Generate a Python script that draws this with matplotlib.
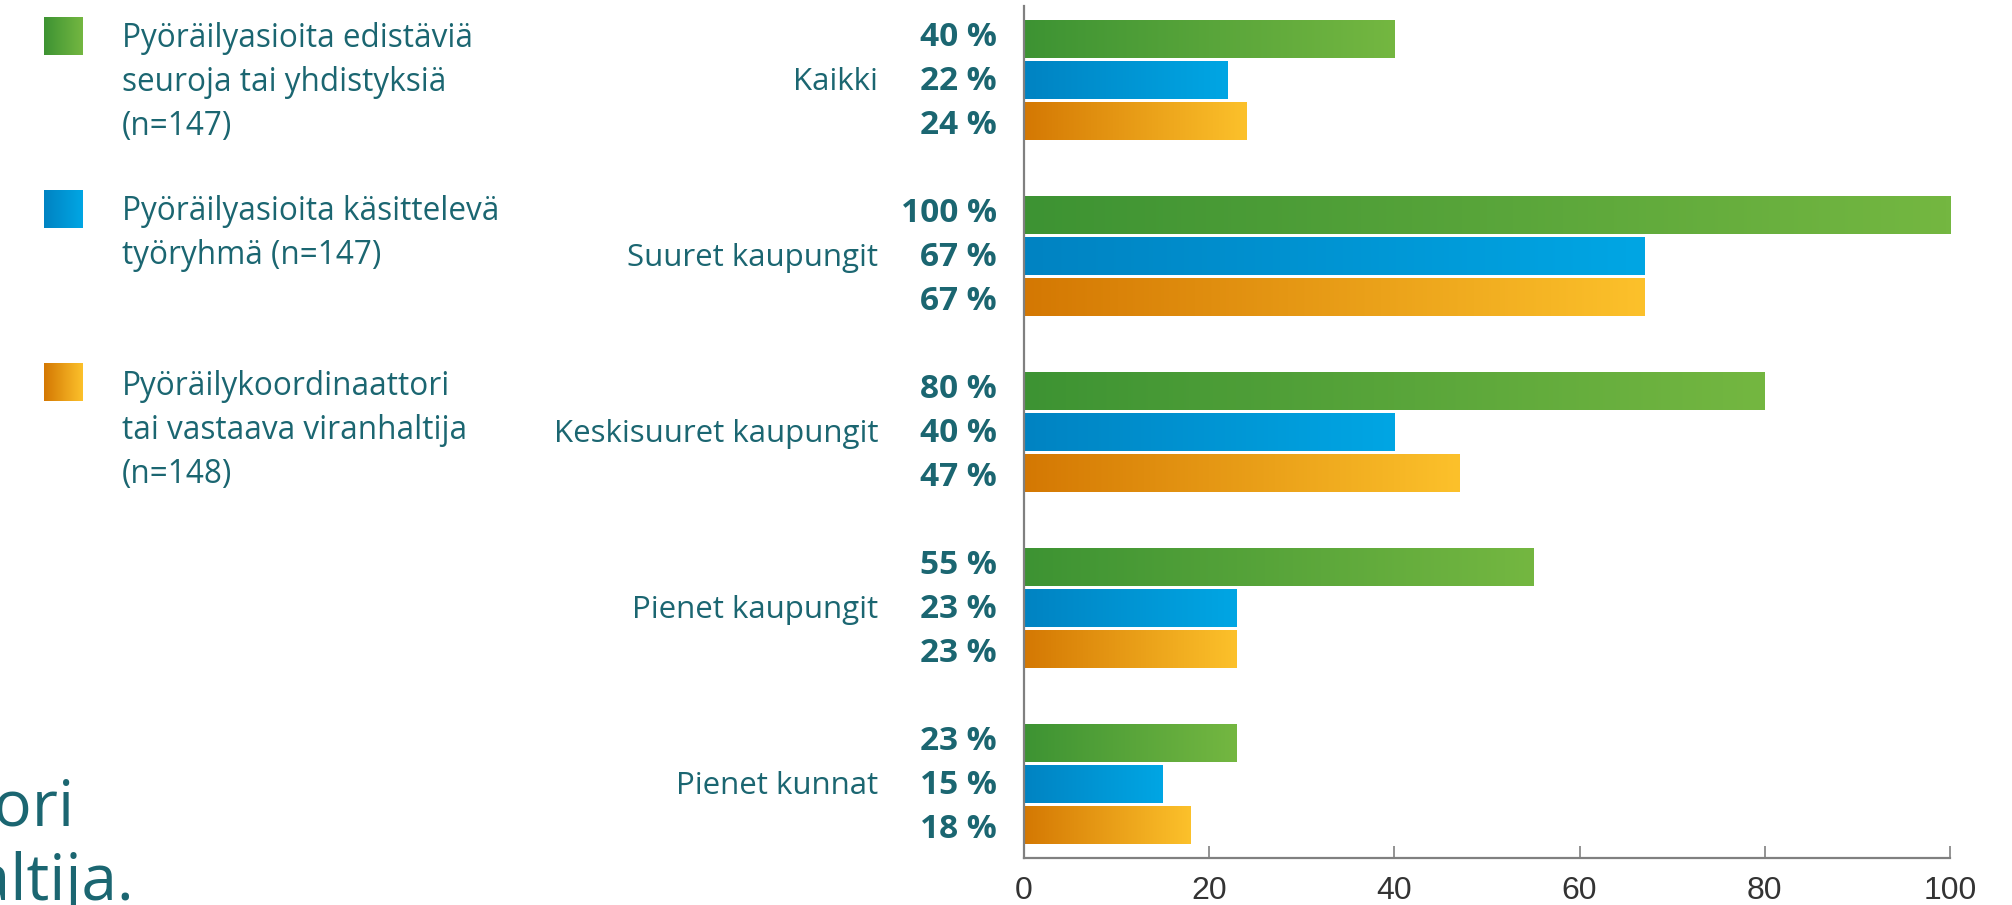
import numpy as np
import matplotlib
matplotlib.use("Agg")
import matplotlib.pyplot as plt
import matplotlib.transforms as mtransforms
from matplotlib.colors import LinearSegmentedColormap

# data
categories = ["Kaikki", "Suuret kaupungit", "Keskisuuret kaupungit",
              "Pienet kaupungit", "Pienet kunnat"]
seurat = [40, 100, 80, 55, 23]        # Pyöräilyasioita edistäviä seuroja ...
tyoryhma = [22, 67, 40, 23, 15]       # Pyöräilyasioita käsittelevä työryhmä
koordinaattori = [24, 67, 47, 23, 18]  # Pyöräilykoordinaattori ...
legend_labels = ["Pyöräilyasioita edistäviä\nseuroja tai yhdistyksiä\n(n=147)",
                 "Pyöräilyasioita käsittelevä\ntyöryhmä (n=147)",
                 "Pyöräilykoordinaattori\ntai vastaava viranhaltija\n(n=148)"]
xticks = [0, 20, 40, 60, 80, 100]

TEAL = "#1b6671"
FONT = ["Open Sans", "DejaVu Sans"]
NARROW = ["Liberation Sans Narrow", "Liberation Sans", "DejaVu Sans"]

cmaps = [LinearSegmentedColormap.from_list("g", ["#3d9333", "#74b741"]),
         LinearSegmentedColormap.from_list("b", ["#0083c2", "#00a6e4"]),
         LinearSegmentedColormap.from_list("o", ["#d47803", "#fcc12b"])]
series = [seurat, tyoryhma, koordinaattori]

W, H = 2012, 905
fig = plt.figure(figsize=(W / 100, H / 100), dpi=100)
ax = fig.add_axes([1024 / W, 1 - 858 / H, (1950 - 1024) / W, (858 - 6) / H])

grad = np.linspace(0, 1, 256).reshape(1, -1)
bar_h = 38 / 176
pitch = 41 / 176
lab_pitch = 44 / 176
ypos = np.arange(len(categories))

for k, (vals, cmap) in enumerate(zip(series, cmaps)):
    bars = ax.barh(ypos + (k - 1) * pitch, vals, height=bar_h,
                   color="none", edgecolor="none")
    for bar in bars:
        x0, y0 = bar.get_xy()
        ax.imshow(grad, extent=(x0, x0 + bar.get_width(), y0, y0 + bar.get_height()),
                  cmap=cmap, aspect="auto", zorder=2, interpolation="bicubic")

ax.set_xlim(0, 100)
ax.set_ylim(4.4205, -0.4205)
ax.set_xticks(xticks)
ax.set_yticks([])
for s in ["top", "right"]:
    ax.spines[s].set_visible(False)
for s in ["left", "bottom"]:
    ax.spines[s].set_color("#808080")
    ax.spines[s].set_linewidth(1.6)
ax.tick_params(axis="x", direction="in", length=9, width=1.2, color="#808080",
               pad=13, labelsize=23, labelcolor="#333333")
for lab in ax.get_xticklabels():
    lab.set_family(NARROW)

# category and value labels
trans = mtransforms.blended_transform_factory(fig.transFigure, ax.transData)
for i, cat in enumerate(categories):
    ax.text(878 / W, i - 0.006, cat, transform=trans, ha="right",
            va="center_baseline", fontsize=22.5, color=TEAL, family=FONT)
    for k, vals in enumerate(series):
        ax.text(997 / W, i - 0.012 + (k - 1) * lab_pitch, f"{vals[i]} %",
                transform=trans, ha="right", va="center_baseline", fontsize=24,
                fontweight="bold", color=TEAL, family=FONT)

# legend
sw_tops = [17, 190, 363]
txt_tops = [22, 195, 370]
for cmap, lab, top, ttop in zip(cmaps, legend_labels, sw_tops, txt_tops):
    sw = fig.add_axes([44 / W, 1 - (top + 38) / H, 39 / W, 38 / H])
    sw.imshow(grad, cmap=cmap, aspect="auto")
    sw.axis("off")
    fig.text(122 / W, 1 - ttop / H, lab, ha="left", va="top",
             fontsize=22.7, color=TEAL, family=FONT, linespacing=1.43)

# cut-off text at bottom left
fig.text(75 / W, 1 - 826 / H, "Pyöräilykoordinaattori", ha="right", va="baseline",
         fontsize=46, color=TEAL, family=FONT)
fig.text(134 / W, 1 - 900 / H, "tai vastaava viranhaltija.", ha="right",
         va="baseline", fontsize=46, color=TEAL, family=FONT)

fig.savefig("out.png", dpi=100)
